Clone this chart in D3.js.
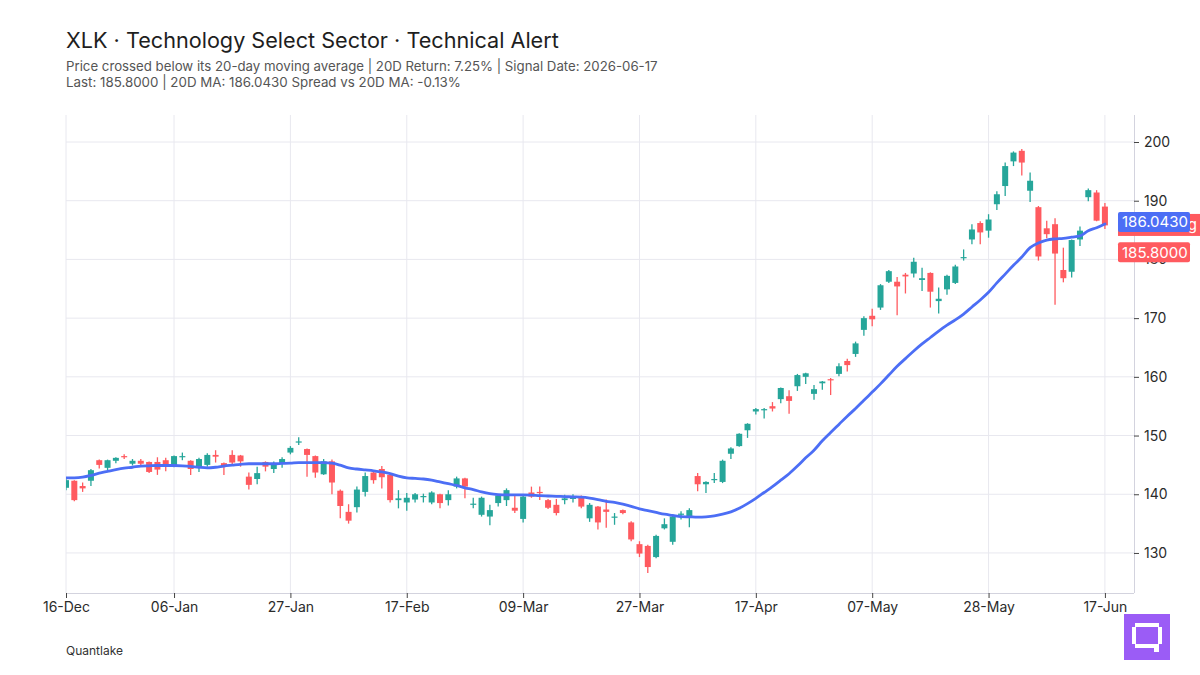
<!DOCTYPE html>
<html><head><meta charset="utf-8">
<script src="https://cdn.jsdelivr.net/npm/d3@7"></script>
<style>
body{margin:0;background:#fff}
svg{display:block}
text{font-family:Inter,"Noto Sans",sans-serif}
</style>
</head><body>
<svg id="chart" width="1200" height="675"></svg>
<script>
// ---------- DATA ----------
const dates = [
"2025-12-16","2025-12-17","2025-12-18","2025-12-19","2025-12-22","2025-12-23","2025-12-24","2025-12-26","2025-12-29","2025-12-30","2025-12-31",
"2026-01-02","2026-01-05","2026-01-06","2026-01-07","2026-01-08","2026-01-09","2026-01-12","2026-01-13","2026-01-14","2026-01-15","2026-01-16",
"2026-01-20","2026-01-21","2026-01-22","2026-01-23","2026-01-26","2026-01-27","2026-01-28","2026-01-29","2026-01-30",
"2026-02-02","2026-02-03","2026-02-04","2026-02-05","2026-02-06","2026-02-09","2026-02-10","2026-02-11","2026-02-12","2026-02-13",
"2026-02-17","2026-02-18","2026-02-19","2026-02-20","2026-02-23","2026-02-24","2026-02-25","2026-02-26","2026-02-27",
"2026-03-02","2026-03-03","2026-03-04","2026-03-05","2026-03-06","2026-03-09","2026-03-10","2026-03-11","2026-03-12","2026-03-13",
"2026-03-16","2026-03-17","2026-03-18","2026-03-19","2026-03-20","2026-03-23","2026-03-24","2026-03-25","2026-03-26","2026-03-27",
"2026-03-30","2026-03-31","2026-04-01","2026-04-02","2026-04-06","2026-04-07","2026-04-08","2026-04-09","2026-04-10",
"2026-04-13","2026-04-14","2026-04-15","2026-04-16","2026-04-17","2026-04-20","2026-04-21","2026-04-22","2026-04-23","2026-04-24",
"2026-04-27","2026-04-28","2026-04-29","2026-04-30","2026-05-01","2026-05-04","2026-05-05","2026-05-06","2026-05-07","2026-05-08",
"2026-05-11","2026-05-12","2026-05-13","2026-05-14","2026-05-15","2026-05-18","2026-05-19","2026-05-20","2026-05-21","2026-05-22",
"2026-05-26","2026-05-27","2026-05-28","2026-05-29","2026-06-01","2026-06-02","2026-06-03","2026-06-04","2026-06-05",
"2026-06-08","2026-06-09","2026-06-10","2026-06-11","2026-06-12","2026-06-15","2026-06-16","2026-06-17"
];
const openP = [
141.1,142.3,141.4,142.3,145.8,144.5,145.7,146.5,145.2,145.7,
145.5,145.5,145.8,144.8,146.3,145.7,144.5,145.0,146.7,145.3,
146.7,146.6,143.0,142.6,145.5,144.3,145.2,147.1,148.8,147.7,
146.5,143.4,145.6,140.6,137.0,137.8,140.4,143.7,144.3,143.3,
139.0,138.6,139.1,139.5,138.6,140.0,139.0,141.3,142.7,138.2,
136.5,136.2,138.5,139.0,137.7,135.8,140.3,140.4,139.0,138.2,
139.0,139.2,139.7,135.9,137.9,137.4,136.0,137.3,135.2,131.5,
131.2,129.3,134.2,131.9,136.5,136.2,143.1,141.7,142.4,142.1,
146.9,148.2,150.9,154.1,154.3,155.0,156.2,156.7,158.4,160.0,
157.1,158.9,159.6,160.5,162.7,163.9,168.0,170.4,171.8,176.2,
176.2,177.4,177.6,176.5,177.7,172.9,174.9,176.0,180.2,183.4,
186.2,184.9,189.4,192.5,196.7,198.5,191.7,188.9,185.3,186.0,
178.2,177.9,183.4,190.6,191.4,189.0
];
const highP = [
142.7,142.4,142.0,144.3,145.9,145.9,146.3,146.8,146.0,146.0,
145.6,146.3,146.2,146.6,147.1,145.8,146.2,147.0,147.5,145.4,
147.5,146.7,143.7,144.7,145.6,145.6,146.3,148.2,149.7,147.8,
146.6,146.0,145.9,140.8,138.3,141.3,143.7,143.9,144.8,143.4,
140.7,140.2,140.2,140.1,140.5,140.1,140.7,143.0,142.8,139.4,
139.6,138.2,140.0,141.0,139.9,139.7,141.3,141.3,139.2,139.2,
139.9,140.0,139.8,138.5,138.0,139.1,136.8,137.4,135.4,132.0,
131.4,133.1,135.9,136.5,137.1,137.6,143.6,142.2,143.6,145.9,
148.0,150.4,152.1,154.7,154.7,155.7,158.2,157.7,160.5,160.7,
158.6,159.3,159.8,162.3,163.1,166.0,170.3,171.6,175.8,178.2,
177.0,177.7,180.3,178.6,177.8,175.2,177.4,179.1,181.7,186.0,
186.5,187.7,191.6,196.5,198.4,198.8,194.8,189.1,186.6,187.0,
182.0,183.4,185.6,192.1,191.8,189.6
];
const lowP = [
140.7,138.8,140.4,141.4,144.4,144.1,145.3,146.0,144.9,144.9,
143.6,143.3,143.9,144.6,145.8,143.3,143.8,144.7,145.4,143.3,
145.0,144.7,140.8,141.7,143.9,143.6,144.5,146.8,148.4,143.0,
142.8,143.3,140.0,135.9,135.0,136.9,139.6,141.8,141.0,138.6,
137.6,137.2,138.6,138.6,138.3,137.6,138.1,141.0,139.3,137.6,
136.2,134.7,137.9,138.0,136.8,135.2,139.4,139.0,137.5,136.4,
138.3,138.6,137.6,135.3,134.0,134.3,134.8,136.6,132.0,129.3,
126.6,129.1,134.0,131.4,135.7,134.4,140.5,140.2,141.9,141.9,
146.0,148.1,149.6,153.6,152.9,154.1,155.5,153.7,157.6,158.8,
156.1,157.8,156.9,160.1,160.9,163.4,167.0,168.6,171.4,176.0,
170.5,174.2,176.9,174.6,171.8,170.8,174.0,175.8,179.8,182.6,
182.6,183.7,188.4,190.8,195.9,194.3,189.8,179.8,183.6,172.3,
176.1,176.9,182.3,189.9,186.5,185.2
];
const closeP = [
142.4,139.0,141.0,144.1,145.0,145.8,146.2,146.3,145.7,145.2,
143.8,144.2,144.9,146.5,146.5,144.3,146.0,146.7,146.4,144.7,
145.4,145.6,141.6,143.6,144.7,145.2,146.0,147.9,149.0,146.7,
143.7,145.6,142.0,138.0,135.5,140.8,143.1,142.4,142.9,139.0,
139.3,139.4,140.0,139.7,140.3,138.5,140.0,142.7,141.3,138.4,
139.4,137.3,139.8,140.7,137.2,139.6,139.6,140.2,137.7,136.8,
139.3,139.4,137.9,138.2,135.2,137.0,136.2,136.8,132.3,129.9,
127.6,132.9,134.9,136.2,136.7,137.3,141.7,142.1,142.6,145.7,
147.8,150.3,152.0,154.5,154.5,154.6,158.1,155.9,160.3,160.6,
157.9,159.2,159.4,161.8,162.0,165.7,170.0,169.8,175.6,178.0,
175.4,177.1,179.6,176.8,174.5,173.3,177.2,178.8,180.4,185.1,
184.6,186.8,191.1,195.9,198.2,196.5,193.4,180.5,184.3,181.0,
176.8,183.3,184.9,191.8,186.6,185.8
];
const ma20 = [
142.8,142.8,142.9,143.2,143.6,143.9,144.2,144.45,144.6,144.8,
144.85,144.9,144.9,144.9,144.85,144.75,144.6,144.5,144.6,144.8,
144.95,145.1,145.2,145.2,145.2,145.2,145.25,145.3,145.4,145.4,
145.4,145.4,145.3,144.95,144.5,144.3,144.15,144.0,143.8,143.5,
143.1,142.8,142.7,142.6,142.4,142.1,141.8,141.5,141.1,140.8,
140.4,140.1,139.95,139.9,139.9,139.9,139.85,139.75,139.7,139.65,
139.6,139.55,139.5,139.35,139.1,138.8,138.6,138.3,137.95,137.5,
137.2,136.9,136.6,136.4,136.2,136.15,136.1,136.15,136.3,136.6,
137.0,137.6,138.4,139.3,140.3,141.3,142.4,143.5,144.8,146.2,
147.5,149.1,150.5,151.9,153.3,154.6,156.0,157.4,158.8,160.3,
161.8,163.1,164.4,165.6,166.7,167.8,168.8,169.7,170.7,171.9,
173.1,174.4,176.0,177.5,179.0,180.4,182.0,182.8,183.3,183.5,
183.6,183.8,184.0,184.9,185.4,186.043
];
const tickDates = ["2025-12-16","2026-01-06","2026-01-27","2026-02-17","2026-03-09","2026-03-27","2026-04-17","2026-05-07","2026-05-28","2026-06-17"];
const yTicks = [130,140,150,160,170,180,190,200];
const lastPrice = 185.8;
const lastMA = 186.043;
const titleText = "XLK · Technology Select Sector · Technical Alert";
const subLine1 = "Price crossed below its 20-day moving average | 20D Return: 7.25% | Signal Date: 2026-06-17";
const subLine2 = "Last: 185.8000 | 20D MA: 186.0430 Spread vs 20D MA: -0.13%";
const sourceText = "Quantlake";
const signalText = "Crossing";

// ---------- LAYOUT ----------
const svg = d3.select("#chart");
const L = 66, R = 1134, T = 115, B = 593;
const idx = d3.range(dates.length);
const x = d3.scaleLinear().domain([0, 128.5]).range([L, R]);
const y = d3.scaleLinear().domain([123.18, 204.6]).range([B, T]);
const parse = d3.timeParse("%Y-%m-%d");
const fmt = d3.timeFormat("%d-%b");
const tickIdx = tickDates.map(d => dates.indexOf(d));

const UP = "#26a69a", DOWN = "#ff5a5f", MA = "#4c6ef5", GRID = "#e8e8ef", AXIS = "#d3d3de";

// grid
const g = svg.append("g");
g.selectAll("line.h").data(yTicks).join("line")
  .attr("x1", L).attr("x2", R).attr("y1", d => y(d)).attr("y2", d => y(d))
  .attr("stroke", GRID).attr("stroke-width", 1);
g.selectAll("line.v").data(tickIdx).join("line")
  .attr("x1", d => x(d)).attr("x2", d => x(d)).attr("y1", T).attr("y2", B)
  .attr("stroke", GRID).attr("stroke-width", 1);

// clip
svg.append("clipPath").attr("id", "plot").append("rect")
  .attr("x", L).attr("y", T).attr("width", R - L).attr("height", B - T);
const plot = svg.append("g").attr("clip-path", "url(#plot)");

// candles
const bw = 6;
const cg = plot.selectAll("g.c").data(idx).join("g");
cg.append("line")
  .attr("x1", i => x(i)).attr("x2", i => x(i))
  .attr("y1", i => y(highP[i])).attr("y2", i => y(lowP[i]))
  .attr("stroke", i => closeP[i] >= openP[i] ? UP : DOWN).attr("stroke-width", 1.3);
cg.append("rect")
  .attr("x", i => x(i) - bw / 2).attr("width", bw)
  .attr("y", i => y(Math.max(openP[i], closeP[i])))
  .attr("height", i => Math.max(1.2, Math.abs(y(openP[i]) - y(closeP[i]))))
  .attr("fill", i => closeP[i] >= openP[i] ? UP : DOWN);

// MA line
plot.append("path").datum(idx)
  .attr("fill", "none").attr("stroke", MA).attr("stroke-width", 2.8)
  .attr("stroke-linejoin", "round").attr("stroke-linecap", "round")
  .attr("d", d3.line().x(i => x(i)).y(i => y(ma20[i])).curve(d3.curveMonotoneX));

// axes
const xAxis = d3.axisBottom(x).tickValues(tickIdx).tickFormat(i => fmt(parse(dates[i]))).tickSize(5).tickPadding(4);
const xa = svg.append("g").attr("transform", `translate(0,${B})`).call(xAxis);
xa.select(".domain").attr("stroke", AXIS).attr("d", `M${L},0.5H${R}`);
xa.selectAll(".tick line").attr("stroke", "#444");
xa.selectAll("text").attr("font-size", 14).attr("fill", "#2b2b2b").attr("font-family", "Inter");

const yAxis = d3.axisRight(y).tickValues(yTicks).tickSize(5).tickPadding(5);
const ya = svg.append("g").attr("transform", `translate(${R},0)`).call(yAxis);
ya.select(".domain").attr("stroke", AXIS).attr("d", `M0.5,${T}V${B}`);
ya.selectAll(".tick line").attr("stroke", "#444");
ya.selectAll("text").attr("font-size", 14).attr("fill", "#2b2b2b").attr("font-family", "Inter");

// right labels
function tag(top, color, text, w) {
  const grp = svg.append("g");
  grp.append("rect").attr("x", R - 16).attr("y", top).attr("width", w).attr("height", 20)
    .attr("rx", 2).attr("fill", color);
  grp.append("text").attr("x", R - 12).attr("y", top + 15.5).attr("font-size", 15)
    .attr("fill", "#fff").text(text);
  return grp;
}
// signal tag mostly hidden behind the MA tag
const sig = svg.append("g");
sig.append("rect").attr("x", R - 16).attr("y", y(lastMA) - 10).attr("width", 90).attr("height", 22).attr("fill", DOWN);
sig.append("text").attr("x", R).attr("y", y(lastMA) + 6).attr("font-size", 15).attr("fill", "#fff").text(signalText);
tag(y(lastMA) - 12, MA, lastMA.toFixed(4), 72);
tag(y(lastPrice) + 17, DOWN, lastPrice.toFixed(4), 72);

// titles
function fit(sel, w) {
  const l = sel.node().getComputedTextLength();
  sel.attr("font-size", parseFloat(sel.attr("font-size")) * w / l);
}
const t1 = svg.append("text").attr("x", 66).attr("y", 48).attr("font-size", 23).attr("fill", "#1e1e1e").text(titleText);
fit(t1, 493);
const s1 = svg.append("text").attr("x", 66).attr("y", 71).attr("font-size", 13).attr("fill", "#555").text(subLine1);
fit(s1, 592);
const s2 = svg.append("text").attr("x", 66).attr("y", 87).attr("font-size", 13).attr("fill", "#555").text(subLine2);
fit(s2, 395);
svg.append("text").attr("x", 66).attr("y", 655).attr("font-size", 12).attr("fill", "#333").text(sourceText);

// logo
const lg = svg.append("g").attr("transform", "translate(1124,614)");
lg.append("rect").attr("width", 46).attr("height", 46).attr("fill", "#9b5cf6");
const px = [[11,9,24,4],[8,13,4,17],[34,13,4,17],[11,30,24,4],[26,30,4,4],[30,34,5,4]];
lg.selectAll("rect.p").data(px).join("rect")
  .attr("x", d => d[0]).attr("y", d => d[1]).attr("width", d => d[2]).attr("height", d => d[3]).attr("fill", "#fff");
</script>
</body></html>
